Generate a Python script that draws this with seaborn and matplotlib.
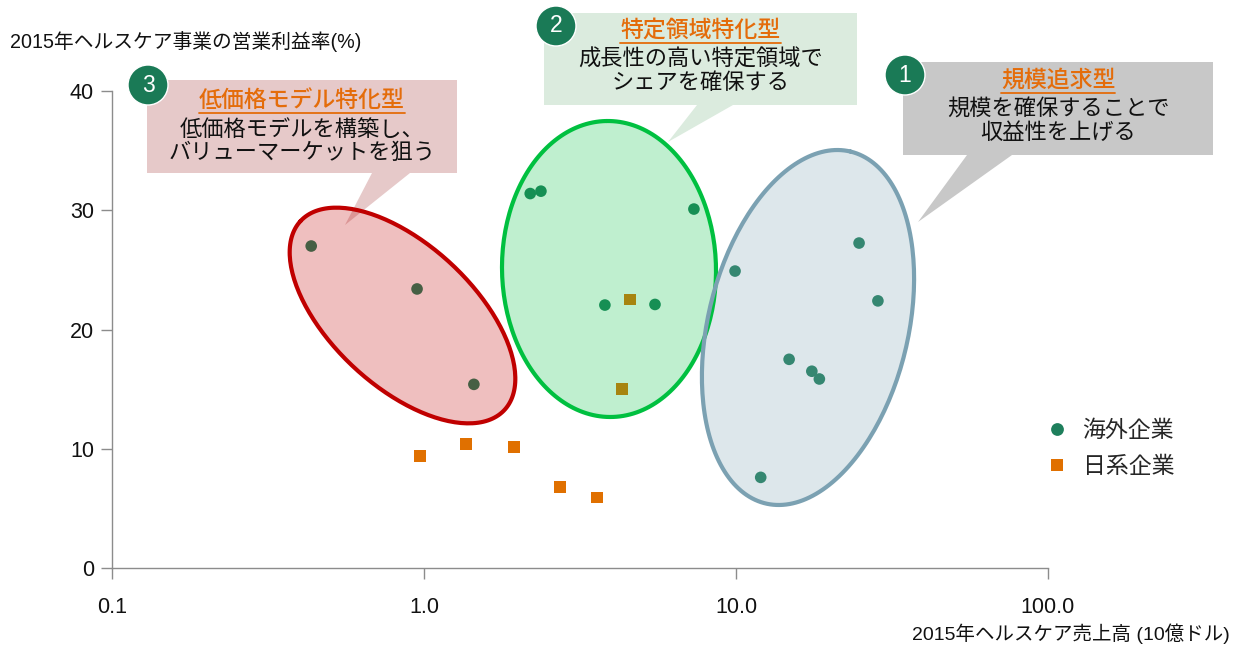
import numpy as np
import pandas as pd
import matplotlib
matplotlib.use("Agg")
import matplotlib.pyplot as plt
from matplotlib.patches import Polygon, Ellipse
from matplotlib.ticker import FixedLocator, FixedFormatter
import seaborn as sns

sns.set_theme(style="white")
plt.rcParams['font.family'] = ['Liberation Sans', 'Noto Sans CJK JP', 'DejaVu Sans']

# データ: 海外企業 (売上高[10億ドル], 営業利益率[%])
overseas_sales = [0.435, 0.95, 1.445, 2.19, 2.37, 7.33, 3.80, 5.50,
                  9.93, 24.8, 28.5, 14.8, 17.5, 18.5, 12.0]
overseas_margin = [27.0, 23.4, 15.4, 31.4, 31.6, 30.1, 22.05, 22.1,
                   24.9, 27.25, 22.4, 17.5, 16.5, 15.85, 7.6]

# 日系企業
japan_sales = [0.97, 1.363, 1.94, 2.73, 3.58, 4.57, 4.32]
japan_margin = [9.4, 10.4, 10.15, 6.8, 5.9, 22.5, 15.0]

group_labels = ["海外企業", "日系企業"]
x_ticks = [0.1, 1.0, 10.0, 100.0]
x_tick_labels = ["0.1", "1.0", "10.0", "100.0"]
y_ticks = [0, 10, 20, 30, 40]

ylabel_text = "2015年ヘルスケア事業の営業利益率(%)"
xlabel_text = "2015年ヘルスケア売上高 (10億ドル)"

# 吹き出し: (番号, タイトル, 本文)
callouts = [
    ("3", "低価格モデル特化型", "低価格モデルを構築し、\nバリューマーケットを狙う"),
    ("2", "特定領域特化型", "成長性の高い特定領域で\nシェアを確保する"),
    ("1", "規模追求型", "規模を確保することで\n収益性を上げる"),
]

W, H = 1241, 647
GREEN = "#1E7F5C"
ORANGE = "#E07000"

df = pd.DataFrame({
    "sales": overseas_sales + japan_sales,
    "margin": overseas_margin + japan_margin,
    "group": [group_labels[0]] * len(overseas_sales) + [group_labels[1]] * len(japan_sales),
})

fig = plt.figure(figsize=(W / 100, H / 100), dpi=100)
ax = fig.add_axes([112 / W, 1 - 568 / H, (1048 - 112) / W, (568 - 91) / H])

sns.scatterplot(data=df, x="sales", y="margin", hue="group", style="group",
                palette={group_labels[0]: GREEN, group_labels[1]: ORANGE},
                markers={group_labels[0]: "o", group_labels[1]: "s"},
                s=70, linewidth=0, ax=ax, zorder=2)

ax.set_xscale("log")
ax.set_xlim(0.1, 100)
ax.set_ylim(0, 40)
ax.xaxis.set_major_locator(FixedLocator(x_ticks))
ax.xaxis.set_major_formatter(FixedFormatter(x_tick_labels))
ax.xaxis.set_minor_locator(FixedLocator([]))
ax.set_yticks(y_ticks)
ax.set_xlabel("")
ax.set_ylabel("")
for side in ["top", "right"]:
    ax.spines[side].set_visible(False)
for side in ["left", "bottom"]:
    ax.spines[side].set_color("#8c8c8c")
    ax.spines[side].set_linewidth(1)
ax.tick_params(axis="both", which="major", length=8, width=1, color="#8c8c8c",
               labelsize=15.5, labelcolor="#111111", direction="out")
ax.tick_params(axis="x", pad=13)
ax.tick_params(axis="y", pad=5)
ax.tick_params(left=True, bottom=True)

fig.canvas.draw()


def px_to_data(pts):
    disp = np.column_stack([pts[:, 0], H - pts[:, 1]])
    return ax.transData.inverted().transform(disp)


def draw_ellipse(cx, cy, a, b, angle, color):
    # 楕円は画面ピクセル空間で作り、データ座標に戻して描く
    t = np.linspace(0, 2 * np.pi, 200)
    th = np.deg2rad(angle)
    ex = a * np.cos(t)
    ey = b * np.sin(t)
    px = cx + ex * np.cos(th) - ey * np.sin(th)
    py = cy - (ex * np.sin(th) + ey * np.cos(th))
    xy = px_to_data(np.column_stack([px, py]))
    ax.fill(xy[:, 0], xy[:, 1], facecolor=color, alpha=0.25, edgecolor="none", zorder=3)
    ax.plot(xy[:, 0], xy[:, 1], color=color, lw=3, zorder=3.1)


draw_ellipse(402.5, 315.5, 139, 71, 137.2, "#C00000")
draw_ellipse(609, 269, 148, 107, 91, "#00C040")
draw_ellipse(808, 327.5, 181, 100, 76.4, "#7BA1B2")


def fxy(x, y):
    return (x / W, 1 - y / H)


box_specs = [
    # (box l, t, r, b), pointer (base1, base2, tip), box colour, badge centre, title y
    ((147, 80, 457, 173), ((372, 173), (410, 173), (345, 225)), "#E6C9C9", (148, 85), 100),
    ((544, 13, 857, 105), ((697, 105), (733, 105), (668, 142)), "#DBEBDE", (556, 26), 30),
    ((903, 62, 1213, 155), ((967, 155), (1012, 155), (918, 222)), "#C8C8C8", (905, 75), 80),
]

for (num, title, body), (box, ptr, col, badge, ty) in zip(callouts, box_specs):
    l, t, r, b = box
    rect = Polygon([fxy(l, t), fxy(r, t), fxy(r, b), fxy(l, b)], closed=True,
                   transform=fig.transFigure, facecolor=col, edgecolor="none",
                   clip_on=False, zorder=1)
    ax.add_patch(rect)
    tri = Polygon([fxy(*p) for p in ptr], closed=True, transform=fig.transFigure,
                  facecolor=col, edgecolor="none", clip_on=False, zorder=1)
    ax.add_patch(tri)
    cx = (l + r) / 2
    tt = ax.text(*fxy(cx, ty), title, transform=fig.transFigure, ha="center", va="center",
                 fontsize=16.5, color="#E46C0A", fontweight="medium", zorder=6, clip_on=False)
    ax.text(*fxy(cx, ty + 42), body, transform=fig.transFigure, ha="center", va="center",
            fontsize=16, color="#111111", linespacing=1.17, zorder=6, clip_on=False)
    # タイトルの下線
    fig.canvas.draw()
    bb = tt.get_window_extent()
    uy = bb.y0 - 1
    ax.plot([bb.x0 / W, bb.x1 / W], [uy / H, uy / H], transform=fig.transFigure,
            color="#E46C0A", lw=1.3, clip_on=False, zorder=6)
    circ = Ellipse(fxy(*badge), width=40 / W, height=40 / H, transform=fig.transFigure,
                   facecolor="#1A7A56", edgecolor="white", lw=1.0, clip_on=False, zorder=5)
    ax.add_patch(circ)
    ax.text(*fxy(*badge), num, transform=fig.transFigure, ha="center", va="center",
            fontsize=16.5, color="white", zorder=6, clip_on=False)

fig.text(10 / W, 1 - 42 / H, ylabel_text, ha="left", va="center", fontsize=14.2, color="#111111")
fig.text(1230 / W, 1 - 634 / H, xlabel_text, ha="right", va="center", fontsize=14, color="#111111")

handles, labels = ax.get_legend_handles_labels()
leg = ax.legend(handles, labels, loc="upper left", bbox_to_anchor=(1023 / W, 1 - 398 / H),
                bbox_transform=fig.transFigure, frameon=False, fontsize=16.5,
                handletextpad=0.5, labelspacing=0.6, handlelength=1.2, markerscale=1.1)

fig.savefig("out.png", dpi=100)
